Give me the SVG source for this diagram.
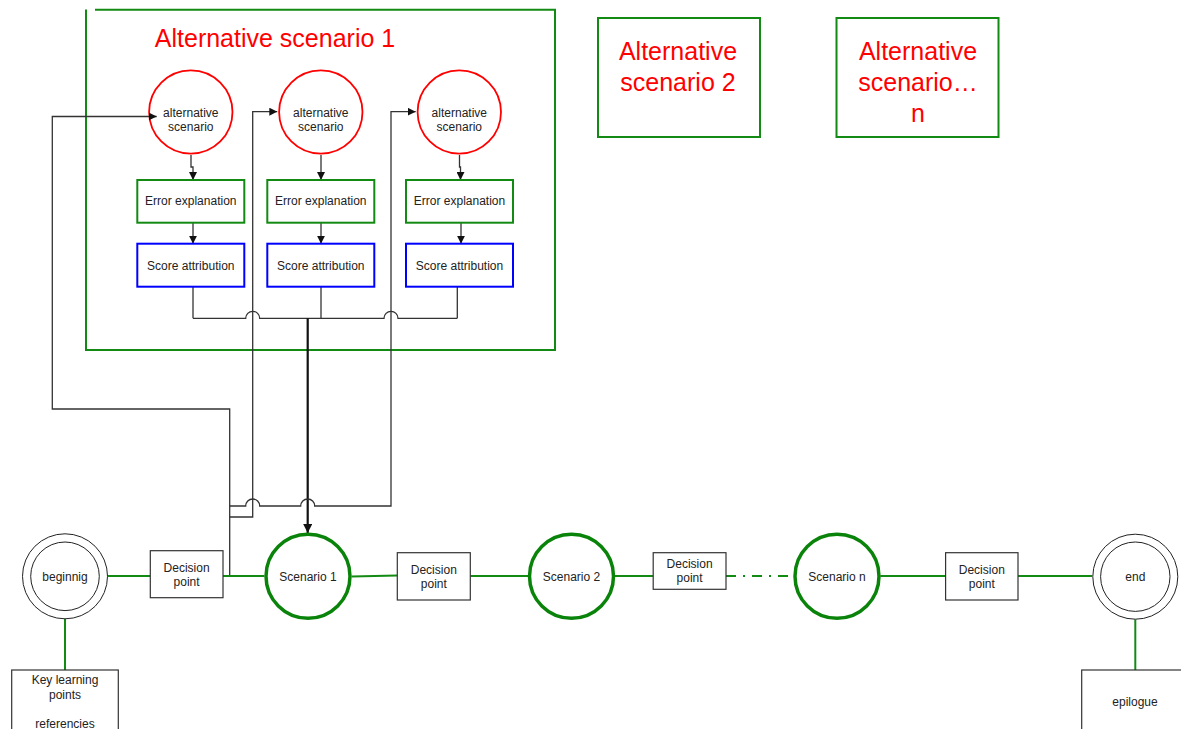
<svg xmlns="http://www.w3.org/2000/svg" width="1181" height="729" viewBox="0 0 1181 729">
<defs>
<style>
text{font-family:"Liberation Sans",Arial,sans-serif;font-size:12px;fill:#222;text-anchor:middle}
.title{font-size:25px;fill:#ff0000}
.frame{fill:none;stroke:#138a13;stroke-width:2}
.alt{fill:none;stroke:#ff0000;stroke-width:1.8}
.err{fill:#fff;stroke:#138a13;stroke-width:2}
.score{fill:#fff;stroke:#0000ff;stroke-width:2}
.dp{fill:#fff;stroke:#333;stroke-width:1.2}
.scen{fill:#fff;stroke:#0a830a;stroke-width:3.5}
.dbl{fill:#fff;stroke:#222;stroke-width:1}
.gl{fill:none;stroke:#138a13;stroke-width:2}
.cn{fill:none;stroke:#333;stroke-width:1.3}
.thick{fill:none;stroke:#111;stroke-width:2.2}
</style>
<marker id="arr" viewBox="0 0 10 10" refX="10" refY="5" markerWidth="8" markerHeight="8" markerUnits="userSpaceOnUse" orient="auto">
<path d="M0,0 L10,5 L0,10 z" fill="#111"/>
</marker>
<marker id="arrB" viewBox="0 0 10 10" refX="10" refY="5" markerWidth="9" markerHeight="9" markerUnits="userSpaceOnUse" orient="auto">
<path d="M0,0 L10,5 L0,10 z" fill="#111"/>
</marker>
</defs>

<g id="alt-frame-1">
<path class="frame" d="M86,9.5 V350 H555 V9.7 H95"/>
<text class="title" x="275" y="47">Alternative scenario 1</text>
</g>

<g id="alt-frame-2">
<rect class="frame" x="598" y="18" width="162" height="119"/>
<text class="title" x="678" y="60">Alternative</text>
<text class="title" x="678" y="91">scenario 2</text>
</g>

<g id="alt-frame-n">
<rect class="frame" x="836.5" y="18" width="162" height="119"/>
<text class="title" x="918" y="60">Alternative</text>
<text class="title" x="918" y="91">scenario…</text>
<text class="title" x="918" y="122">n</text>
</g>

<g id="alt-scenario-a">
<circle class="alt" cx="190.8" cy="112" r="41.7"/>
<text x="190.8" y="116.5">alternative</text>
<text x="190.8" y="130.5">scenario</text>
</g>
<g id="alt-scenario-b">
<circle class="alt" cx="320.8" cy="112" r="41.7"/>
<text x="320.8" y="116.5">alternative</text>
<text x="320.8" y="130.5">scenario</text>
</g>
<g id="alt-scenario-c">
<circle class="alt" cx="459.3" cy="112" r="41.7"/>
<text x="459.3" y="116.5">alternative</text>
<text x="459.3" y="130.5">scenario</text>
</g>

<g id="connectors">
<!-- inside alternative scenario 1 -->
<path class="cn" d="M191,155 V167 H193 V180" marker-end="url(#arr)"/>
<path class="cn" d="M321,155 V180" marker-end="url(#arr)"/>
<path class="cn" d="M459.5,155 V167 H460.5 V180" marker-end="url(#arr)"/>
<path class="cn" d="M193,222.7 V243.7" marker-end="url(#arr)"/>
<path class="cn" d="M321,222.7 V243.7" marker-end="url(#arr)"/>
<path class="cn" d="M461,222.7 V243.7" marker-end="url(#arr)"/>
<path class="cn" d="M193,286.7 V318.3"/>
<path class="cn" d="M321,286.7 V318.3"/>
<path class="cn" d="M457.3,286.7 V318.3"/>
<path class="cn" d="M193,318.3 H245.7 A7,7 0 0 1 259.7,318.3 H384 A7,7 0 0 1 398,318.3 H457.3"/>
<path class="thick" d="M307.7,318.3 V533" marker-end="url(#arrB)"/>
<!-- feedback lines from decision point -->
<path class="cn" d="M229.7,576 V409 H52.3 V116.5 H156.7" marker-end="url(#arr)"/>
<path class="cn" d="M229.7,517 H252.7 V111.7 H277.3" marker-end="url(#arr)"/>
<path class="cn" d="M229.7,506 H245.7 A7,7 0 0 1 259.7,506 H300.7 A7,7 0 0 1 314.7,506 H391 V111.7 H415.7" marker-end="url(#arr)"/>
<!-- main line -->
<path class="gl" d="M107.7,576 H150.3"/>
<path class="gl" d="M223,576 H264.3"/>
<path class="gl" d="M351.7,576.5 L397.3,575.5"/>
<path class="gl" d="M470.3,576 H528.5"/>
<path class="gl" d="M615,576 H653.2"/>
<path class="gl" d="M726,576 H793.8" stroke-dasharray="10 7 2 7"/>
<path class="gl" d="M880.4,576 H945.6"/>
<path class="gl" d="M1018,576 H1092.3"/>
<path class="gl" d="M65,619 V670"/>
<path class="gl" d="M1135.3,619.3 V670"/>
</g>

<g id="error-a">
<rect class="err" x="137.3" y="180" width="107" height="42.7"/>
<text x="190.8" y="205.3">Error explanation</text>
</g>
<g id="error-b">
<rect class="err" x="267.3" y="180" width="107" height="42.7"/>
<text x="320.8" y="205.3">Error explanation</text>
</g>
<g id="error-c">
<rect class="err" x="406" y="180" width="107" height="42.7"/>
<text x="459.5" y="205.3">Error explanation</text>
</g>

<g id="score-a">
<rect class="score" x="137.3" y="243.7" width="107" height="43"/>
<text x="190.8" y="269.5">Score attribution</text>
</g>
<g id="score-b">
<rect class="score" x="267.3" y="243.7" width="107" height="43"/>
<text x="320.8" y="269.5">Score attribution</text>
</g>
<g id="score-c">
<rect class="score" x="406" y="243.7" width="107" height="43"/>
<text x="459.5" y="269.5">Score attribution</text>
</g>

<g id="beginnig">
<circle class="dbl" cx="65" cy="576.3" r="42.5"/>
<circle class="dbl" cx="65" cy="576.3" r="34.3"/>
<text x="65" y="580.5">beginnig</text>
</g>

<g id="key-learning">
<rect class="dp" x="11.7" y="670" width="106.6" height="80"/>
<text x="65" y="684">Key learning</text>
<text x="65" y="698.5">points</text>
<text x="65" y="727.5">referencies</text>
</g>

<g id="decision-1">
<rect class="dp" x="150.3" y="550.7" width="72.7" height="47"/>
<text x="186.6" y="571.5">Decision</text>
<text x="186.6" y="585.5">point</text>
</g>

<g id="scenario-1">
<circle class="scen" cx="308" cy="576.3" r="42"/>
<text x="308" y="580.5">Scenario 1</text>
</g>

<g id="decision-2">
<rect class="dp" x="397.3" y="552.7" width="73" height="47.3"/>
<text x="433.8" y="573.5">Decision</text>
<text x="433.8" y="587.5">point</text>
</g>

<g id="scenario-2">
<circle class="scen" cx="571.5" cy="576.3" r="42"/>
<text x="571.5" y="580.5">Scenario 2</text>
</g>

<g id="decision-3">
<rect class="dp" x="653.2" y="552.7" width="72.8" height="36.6"/>
<text x="689.6" y="568.3">Decision</text>
<text x="689.6" y="582.3">point</text>
</g>

<g id="scenario-n">
<circle class="scen" cx="837" cy="576.3" r="42"/>
<text x="837" y="580.5">Scenario n</text>
</g>

<g id="decision-4">
<rect class="dp" x="945.6" y="552.7" width="72.4" height="47.3"/>
<text x="981.8" y="573.5">Decision</text>
<text x="981.8" y="587.5">point</text>
</g>

<g id="end">
<circle class="dbl" cx="1135.3" cy="576.7" r="42.5"/>
<circle class="dbl" cx="1135.3" cy="576.7" r="34.7"/>
<text x="1135.3" y="580.5">end</text>
</g>

<g id="epilogue">
<rect class="dp" x="1081.7" y="670" width="106.6" height="80"/>
<text x="1135" y="706">epilogue</text>
</g>
</svg>
